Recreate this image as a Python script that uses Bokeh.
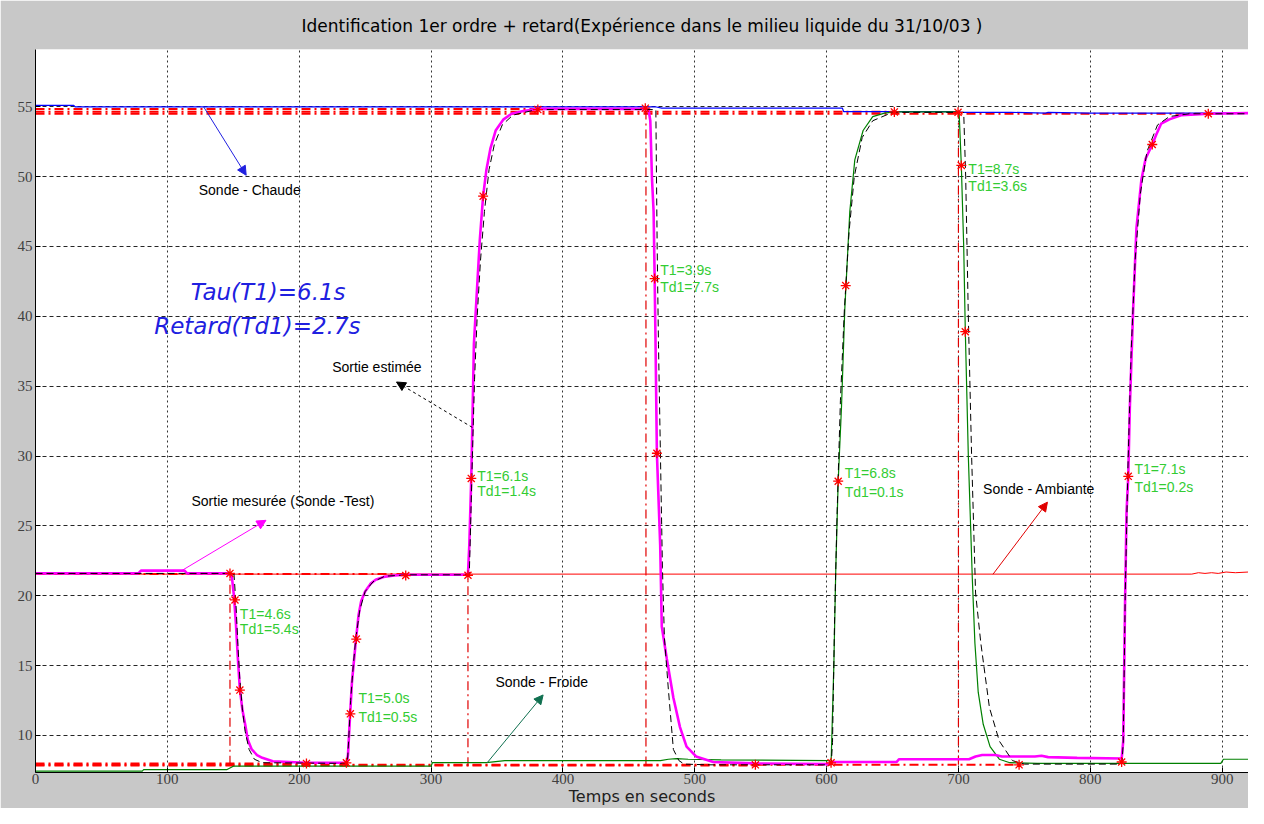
from bokeh.plotting import figure
from bokeh.models import Range1d, FixedTicker, Label, Arrow, NormalHead
from bokeh.embed import file_html
from bokeh.resources import INLINE

# ---------------- data ----------------
# measured output (Sonde - Test), magenta
t_mes = [0, 78, 80, 113, 115, 147.5, 149, 150.5, 152, 153.5, 155, 157, 159, 161, 164, 168, 172, 180, 205,
         236, 237, 238.5, 240, 243, 245, 247, 250, 254, 258, 264, 272, 282,
         328, 329, 330.5, 331.5, 332.5, 334, 335.5, 337, 339.5, 342, 345, 349, 355, 361, 370, 381,
         462.5, 465, 466.3, 467.6, 468.8, 469.6, 470.2, 471.3, 473.8, 475, 478.8, 483.8, 488.8, 493.8, 501, 514, 545,
         602, 604, 653, 655, 708, 713, 718, 728, 733, 758, 763, 768, 790,
         823.8, 825, 826.3, 827.5, 828.8, 830, 832.5, 835, 838.8, 842, 847, 850, 853.8, 860, 868.8, 880, 889.5, 920]
y_mes = [21.6, 21.6, 21.8, 21.8, 21.6, 21.6, 21.3, 20.0, 18.0, 15.5, 13.3, 11.8, 10.8, 9.7, 9.0, 8.6, 8.4, 8.15, 8.05,
         8.05, 8.6, 11.3, 13.8, 16.8, 18.6, 19.6, 20.3, 20.85, 21.15, 21.35, 21.45, 21.5,
         21.5, 23.6, 28.4, 33.0, 38.0, 40.5, 43.0, 45.5, 48.6, 50.5, 52.0, 53.3, 54.1, 54.5, 54.7, 54.85,
         54.85, 54.8, 54.0, 49.8, 47.5, 42.7, 38.6, 30.2, 23.6, 17.8, 15.5, 12.7, 10.6, 9.2, 8.5, 8.1, 8.0,
         7.95, 8.1, 8.1, 8.3, 8.3, 8.5, 8.6, 8.6, 8.5, 8.5, 8.55, 8.45, 8.4,
         8.35, 9.6, 19.0, 26.0, 28.55, 33.5, 40.5, 46.3, 49.8, 51.3, 52.3, 53.0, 53.8, 54.1, 54.4, 54.45, 54.5, 54.55]

# estimated output (first order + delay model), black dashed
t_est = [0, 150.5, 152, 153.5, 155, 157, 159, 162, 166, 172,
         236.5, 237.5, 239, 241, 243, 246, 250, 256, 265, 282,
         329, 330, 331.5, 333, 335, 337.5, 340.5, 344, 348, 354, 362, 380,
         470.5, 471.5, 472.5, 474, 475.5, 477, 480, 483.8, 488, 492, 510,
         603.5, 604.5, 606, 608, 610.5, 613.5, 617, 621, 627, 635, 650,
         704, 705.5, 707.5, 710, 713, 717, 723.5, 731, 741, 750,
         824, 825, 826.5, 828.5, 831, 834, 838, 843, 851, 860, 875, 920]
y_est = [21.6, 21.6, 19.5, 16.5, 14.0, 11.8, 10.3, 9.0, 8.3, 8.05,
         8.0, 9.6, 12.5, 15.0, 17.0, 19.0, 20.3, 21.0, 21.4, 21.5,
         21.5, 25.0, 30.5, 35.5, 40.0, 44.0, 47.5, 50.5, 52.3, 53.7, 54.4, 54.8,
         54.8, 45.0, 38.0, 30.0, 22.0, 17.0, 13.3, 9.0, 8.2, 7.95, 7.9,
         7.9, 9.5, 18.0, 26.0, 34.0, 40.5, 46.0, 50.0, 52.8, 54.0, 54.6,
         54.6, 50.0, 40.0, 30.0, 20.2, 16.6, 12.0, 9.6, 8.2, 7.95,
         7.95, 9.5, 20.0, 29.0, 37.5, 44.0, 48.8, 51.8, 53.7, 54.3, 54.5, 54.5]

# cold probe (Sonde - Froide), green
t_fr = [0, 81, 82, 145, 150, 300, 301, 342, 356, 474, 480, 486, 495, 520, 602,
        603.5, 605.5, 607, 608.8, 611.3, 613.8, 617.6, 621.4, 627.7, 635, 644, 651.4,
        700.5, 702.2, 704, 705.2, 707.5, 710.5, 712.5, 715, 718.8, 724, 731, 739, 760, 899, 901, 920]
y_fr = [7.45, 7.45, 7.55, 7.55, 7.8, 7.8, 8.05, 8.05, 8.2, 8.2, 8.3, 8.35, 8.3, 8.25, 8.2,
        8.3, 15.0, 22.0, 28.2, 33.5, 40.5, 47.5, 51.2, 53.3, 54.3, 54.55, 54.63,
        54.63, 50.8, 45.0, 39.0, 30.0, 21.3, 16.6, 13.1, 10.8, 9.2, 8.3, 8.05, 8.0, 8.0, 8.3, 8.3]

# hot probe (Sonde - Chaude), blue
t_ch = [0, 29, 30, 470, 475, 612, 613, 700, 702, 740, 766, 768, 800, 920]
y_ch = [55.1, 55.1, 55.0, 55.0, 54.9, 54.9, 54.65, 54.65, 54.6, 54.6, 54.55, 54.6, 54.55, 54.55]

# ambient probe (Sonde - Ambiante), red
t_amb = [0, 877, 882, 887, 892, 897, 903, 910, 920]
y_amb = [21.55, 21.55, 21.65, 21.6, 21.65, 21.6, 21.7, 21.65, 21.7]

# identification points (red stars)
star_t = [147.5, 151.3, 155, 205.5,
          235.8, 238.8, 243.3, 280.8,
          328, 330.5, 339.5, 381,
          462.5, 469.6, 471.3, 546,
          603.4, 608.8, 614.5, 651.4,
          699.7, 702.2, 705.2, 746,
          823.8, 828.8, 847, 889.5]
star_y = [21.6, 19.7, 13.25, 8.0,
          8.04, 11.55, 16.9, 21.45,
          21.47, 28.4, 48.6, 54.8,
          54.9, 42.7, 30.2, 7.9,
          8.04, 28.2, 42.2, 54.63,
          54.6, 50.8, 38.9, 7.9,
          8.1, 28.55, 52.3, 54.5]

# final-value reference lines (red dash-dot)
h_y = [8.0, 7.85, 7.9, 21.55, 54.85, 54.65, 54.5]
h_end = [205.5, 546, 746, 281, 381, 651.4, 889.5]
v_t = [147.5, 328, 463, 700]
v_lo = [7.9, 7.8, 7.85, 7.9]
v_hi = [21.6, 21.5, 54.9, 54.6]

# identified parameters for each step
t1_txt = ["T1=4.6s", "T1=5.0s", "T1=6.1s", "T1=3.9s", "T1=6.8s", "T1=8.7s", "T1=7.1s"]
td_txt = ["Td1=5.4s", "Td1=0.5s", "Td1=1.4s", "Td1=7.7s", "Td1=0.1s", "Td1=3.6s", "Td1=0.2s"]
x_ticks = [0, 100, 200, 300, 400, 500, 600, 700, 800, 900]
y_ticks = [10, 15, 20, 25, 30, 35, 40, 45, 50, 55]

TITLE = "Identification 1er ordre + retard(Expérience dans le milieu liquide du 31/10/03 )"
XLABEL = "Temps en seconds"

assert len(t_mes) == len(y_mes) and len(t_est) == len(y_est) and len(t_fr) == len(y_fr)

# ---------------- figure ----------------
GRAY = "#c8c8c8"
p = figure(width=1248, height=808, output_backend="svg", toolbar_location=None,
           x_range=Range1d(0, 920), y_range=Range1d(7.35, 59.1),
           min_border_left=35, min_border_right=0, min_border_top=48, min_border_bottom=30,
           background_fill_color="white", border_fill_color=GRAY, outline_line_color=None,
           title=TITLE)

p.title.align = "center"
p.title.text_font = "DejaVu Sans"
p.title.text_font_size = "17px"
p.title.text_font_style = "normal"
p.title.text_color = "black"
p.title.standoff = 27

for ax in (p.xaxis[0], p.yaxis[0]):
    ax.major_label_text_font = "Liberation Sans Narrow"
    ax.major_label_text_font_size = "15px"
    ax.major_label_text_color = "#404040"
    ax.axis_line_color = "black"
    ax.major_tick_in = 5
    ax.major_tick_out = 0
    ax.minor_tick_in = 0
    ax.minor_tick_out = 0
    ax.major_tick_line_color = "black"
    ax.major_label_standoff = 3

p.xaxis.major_label_standoff = 1
p.xaxis.ticker = FixedTicker(ticks=x_ticks)
p.yaxis.ticker = FixedTicker(ticks=y_ticks)
p.xaxis.axis_label = XLABEL
p.xaxis.axis_label_text_font = "DejaVu Sans"
p.xaxis.axis_label_text_font_size = "16px"
p.xaxis.axis_label_text_font_style = "normal"
p.xaxis.axis_label_text_color = "#202020"
p.xaxis.axis_label_standoff = 0

p.xgrid.ticker = FixedTicker(ticks=x_ticks)
p.ygrid.ticker = FixedTicker(ticks=y_ticks)
p.xgrid.grid_line_color = "black"
p.xgrid.grid_line_dash = "2 3"
p.xgrid.grid_line_alpha = 0.8
p.ygrid.grid_line_color = "black"
p.ygrid.grid_line_dash = "4 3"
p.ygrid.grid_line_alpha = 0.85

# reference lines
p.segment(x0=[0] * len(h_y), y0=h_y, x1=h_end, y1=h_y, line_color="red", line_width=2,
          line_dash="9 4 2 4")
p.segment(x0=v_t, y0=v_lo, x1=v_t, y1=v_hi, line_color="#e00000", line_width=1.2,
          line_dash="9 4 2 4")

# probes
p.line(t_amb, y_amb, line_color="#ff0000", line_width=1)
p.line(t_ch, y_ch, line_color="#0000ff", line_width=1.2)
p.line(t_fr, y_fr, line_color="#008000", line_width=1.2)
p.line(t_mes, y_mes, line_color="#ff00ff", line_width=2.6)
p.line(t_est, y_est, line_color="black", line_width=1, line_dash="7 4")
p.scatter(star_t, star_y, marker="asterisk", size=10, line_color="red", line_width=1.3)

# green parameter labels
lab_x = [155, 245, 335, 473.8, 613.8, 707.5, 833.5]
lab_y1 = [18.7, 12.7, 28.6, 43.3, 28.8, 50.55, 29.06]
lab_y2 = [17.6, 11.3, 27.5, 42.1, 27.4, 49.3, 27.75]
for i in range(7):
    for txt, yy in ((t1_txt[i], lab_y1[i]), (td_txt[i], lab_y2[i])):
        p.add_layout(Label(x=lab_x[i], y=yy, text=txt, text_font="Liberation Sans",
                           text_font_size="14px", text_color="#33cc33", text_baseline="middle"))

# black annotations
for txt, xx, yy in (("Sonde - Chaude", 123.8, 49.03), ("Sortie estimée", 225, 36.35),
                    ("Sortie mesurée (Sonde -Test)", 118.3, 26.8), ("Sonde - Froide", 348.8, 13.8),
                    ("Sonde - Ambiante", 718.7, 27.66)):
    p.add_layout(Label(x=xx, y=yy, text=txt, text_font="Liberation Sans", text_font_size="14px",
                       text_color="black", text_baseline="middle"))

# blue big italic
p.add_layout(Label(x=117.8, y=41.75, text="Tau(T1)=6.1s", text_font="DejaVu Sans",
                   text_font_size="23px", text_font_style="italic", text_color="#2020e0",
                   text_baseline="middle"))
p.add_layout(Label(x=90, y=39.34, text="Retard(Td1)=2.7s", text_font="DejaVu Sans",
                   text_font_size="23px", text_font_style="italic", text_color="#2020e0",
                   text_baseline="middle"))

# arrows
p.add_layout(Arrow(x_start=127.5, y_start=55.0, x_end=159.8, y_end=50.1, line_color="#2020e0",
                   end=NormalHead(size=9, fill_color="#2020e0", line_color="#2020e0")))
p.add_layout(Arrow(x_start=331.3, y_start=32.05, x_end=273.8, y_end=35.3, line_color="black",
                   line_dash="3 3",
                   end=NormalHead(size=9, fill_color="black", line_color="black")))
p.add_layout(Arrow(x_start=110, y_start=21.75, x_end=174.8, y_end=25.4, line_color="#ff00ff",
                   end=NormalHead(size=9, fill_color="#ff00ff", line_color="#ff00ff")))
p.add_layout(Arrow(x_start=342.5, y_start=8.04, x_end=385, y_end=12.9, line_color="#107050",
                   end=NormalHead(size=9, fill_color="#107050", line_color="#107050")))
p.add_layout(Arrow(x_start=726.2, y_start=21.54, x_end=767.5, y_end=26.7, line_color="#e00000",
                   end=NormalHead(size=9, fill_color="#e00000", line_color="#e00000")))

open("out.html", "w").write(file_html(p, INLINE))
